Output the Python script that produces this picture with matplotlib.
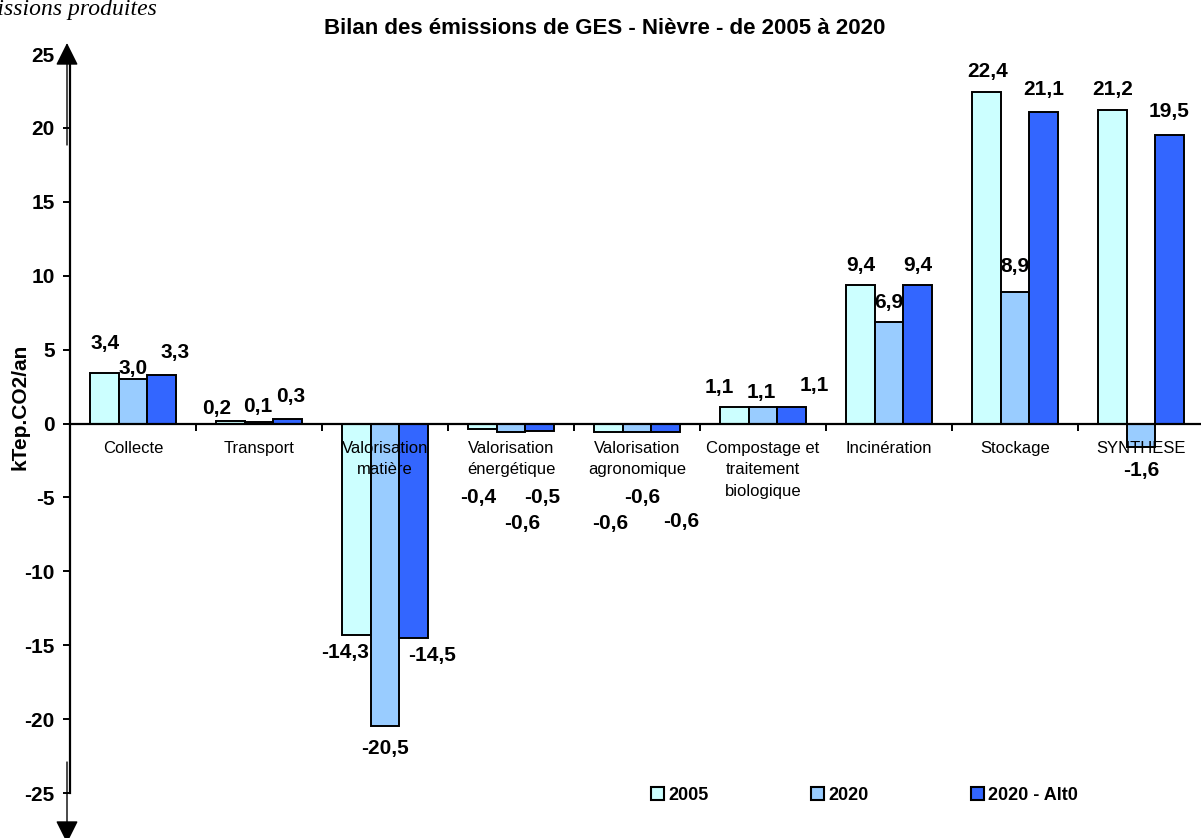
import matplotlib
matplotlib.use("Agg")
import matplotlib.pyplot as plt
from matplotlib.patches import Patch, FancyArrowPatch
import numpy as np

plt.rcParams['font.family'] = ['Liberation Sans', 'DejaVu Sans']

# ---------------- data ----------------
categories = ["Collecte", "Transport", "Valorisation\nmatière", "Valorisation\nénergétique",
              "Valorisation\nagronomique", "Compostage et\ntraitement\nbiologique",
              "Incinération", "Stockage", "SYNTHESE"]
series_names = ["2005", "2020", "2020 - Alt0"]
v2005 = [3.4, 0.2, -14.3, -0.4, -0.6, 1.1, 9.4, 22.4, 21.2]
v2020 = [3.0, 0.1, -20.5, -0.6, -0.6, 1.1, 6.9, 8.9, -1.6]
valt0 = [3.3, 0.3, -14.5, -0.5, -0.6, 1.1, 9.4, 21.1, 19.5]
yticks = [-25, -20, -15, -10, -5, 0, 5, 10, 15, 20, 25]
title = "Bilan des émissions de GES - Nièvre - de 2005 à 2020"
ylabel = "kTep.CO2/an"

# ---------------- style ----------------
colors = ["#CCFFFF", "#99CCFF", "#3366FF"]
# label offsets (pixels): dx to the right, dy away from the bar end
lab_dx = [[1, -14, -11, -4, 2, -15, 0, 1, 0],
          [0, -1, 0, 11, 5, -2, 0, 0, 0],
          [14, 3, 19, 3, 16, 23, 0, 0, 0]]
lab_dy = [[30, 12, 18, 68, 91, 20, 19, 21, 21],
          [11, 16, 22, 91, 65, 15, 19, 25, 23],
          [22, 23, 18, 67, 89, 22, 19, 22, 24]]

W, H = 1201, 838
fig = plt.figure(figsize=(W / 100, H / 100), dpi=100)
left_px, right_px, top_px, bot_px = 70, 1204, 54, 793
ax = fig.add_axes([left_px / W, 1 - bot_px / H, (right_px - left_px) / W, (bot_px - top_px) / H])
ax.set_xlim(-0.5, len(categories) - 0.5)
ax.set_ylim(-25, 25)

bw = 0.226
x = np.arange(len(categories))
all_vals = [v2005, v2020, valt0]
for k, vals in enumerate(all_vals):
    xs = x + (k - 1) * bw
    ax.bar(xs, vals, width=bw, color=colors[k], edgecolor="black", linewidth=1.4, zorder=3)
    for i, v in enumerate(vals):
        s = f"{v:.1f}".replace(".", ",")
        dy = lab_dy[k][i] if v >= 0 else -lab_dy[k][i]
        ax.annotate(s, xy=(xs[i], v), xytext=(lab_dx[k][i], dy), textcoords="offset pixels",
                    ha="center", va="center", fontsize=15, fontweight="bold", zorder=6,
                    annotation_clip=False)

# category labels
for i, c in enumerate(categories):
    ax.annotate(c, xy=(i, 0), xytext=(0, -17), textcoords="offset pixels",
                ha="center", va="top", fontsize=12, linespacing=1.58, zorder=5,
                annotation_clip=False)

# axes styling
for s in ["top", "right"]:
    ax.spines[s].set_visible(False)
ax.spines["left"].set_linewidth(1.6)
ax.spines["bottom"].set_position(("data", 0))
ax.spines["bottom"].set_linewidth(1.6)
ax.spines["bottom"].set_zorder(4)
ax.set_xticks(np.arange(0.5, len(categories) - 0.5, 1.0))
ax.set_xticklabels([])
ax.tick_params(axis="x", direction="out", length=5, width=1.4)
ax.set_yticks(yticks)
ax.set_yticklabels([str(t) for t in yticks], fontsize=15, fontweight="bold")
ax.tick_params(axis="y", direction="out", length=5, width=1.4, pad=6)
ax.set_facecolor("none")

fig.text(20 / W, 1 - 407 / H, ylabel, rotation=90, ha="center", va="center",
         fontsize=15, fontweight="bold")
fig.text(605 / W, 1 - 29 / H, title, ha="center", va="center", fontsize=16, fontweight="bold")
fig.text(157 / W, 1 - 15 / H, "Émissions produites", ha="right", va="baseline",
         fontsize=17, style="italic", family=["Liberation Serif", "DejaVu Serif"])

# arrows beside the axis
arrow_props = dict(arrowstyle="-|>,head_length=0.7,head_width=0.35", color="black", lw=1.0,
                   shrinkA=0, shrinkB=0, mutation_scale=20)
fig.add_artist(FancyArrowPatch((67, H - 145), (67, H - 43), transform=None, **arrow_props))
fig.add_artist(FancyArrowPatch((67, H - 762), (67, H - 843), transform=None, **arrow_props))

# legend
handles = [Patch(facecolor=colors[k], edgecolor="black", linewidth=1.5) for k in range(3)]
fig.legend(handles, series_names, loc="center left", bbox_to_anchor=(651 / W, 1 - 795 / H),
           ncol=3, frameon=False, prop=dict(size=13, weight="bold"), handlelength=0.72,
           handleheight=0.72, handletextpad=0.22, columnspacing=5.7, borderpad=0, borderaxespad=0)

fig.savefig("out.png", dpi=100)
